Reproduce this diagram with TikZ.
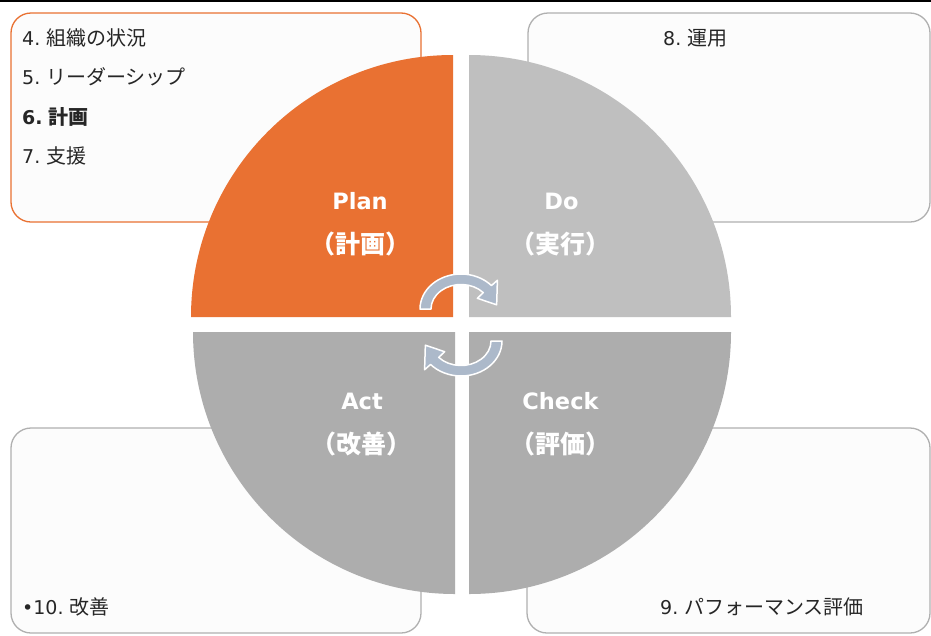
\documentclass[tikz,border=0pt]{standalone}
\usepackage{fontspec}
\newfontfamily\jp{Noto Sans CJK JP}
\newfontfamily\lat{DejaVu Sans}
\definecolor{orangec}{HTML}{E97132}
\definecolor{dogray}{HTML}{BFBFBF}
\definecolor{actgray}{HTML}{ADADAD}
\definecolor{boxgray}{HTML}{B0B0B0}
\definecolor{boxfill}{HTML}{FCFCFC}
\definecolor{arrowc}{HTML}{ACB9CA}
\definecolor{txt}{HTML}{262626}
\newcommand\mytxt[2]{{\lat\fontsize{19}{23}\selectfont #1}\hspace{6pt}{\jp\fontsize{20}{24}\selectfont #2}}
\newcommand\mytxtb[2]{{\lat\bfseries\fontsize{19}{23}\selectfont #1}\hspace{6pt}{\jp\bfseries\fontsize{20}{24}\selectfont #2}}
\newcommand\lla[1]{{\lat\bfseries\fontsize{22.5}{27}\selectfont #1}}
\newcommand\llj[1]{{\jp\bfseries\fontsize{25}{30}\selectfont #1}}
\tikzset{
  boxo/.style={draw=orangec, line width=1.3pt, fill=boxfill, rounded corners=20pt},
  boxg/.style={draw=boxgray, line width=1.3pt, fill=boxfill, rounded corners=20pt},
  body/.style={anchor=base west, inner sep=0pt, text=txt},
  lab/.style={anchor=base, inner sep=0pt, text=white},
  arr/.style={fill=arrowc, draw=white, line width=1.5pt, line join=round},
  cyc/.pic={
    \filldraw[arr] (180:41 and 35) arc[start angle=180,end angle=318,x radius=41,y radius=35]
      -- (318:49 and 43) -- (352:36 and 30) -- (318:22 and 16) -- (318:30 and 24.5)
      arc[start angle=318,end angle=180,x radius=30,y radius=24.5] -- cycle;
  }
}
\begin{document}
\begin{tikzpicture}[x=1pt,y=-1pt]
\useasboundingbox (0,0) rectangle (931,635);
\fill[white] (0,0) rectangle (931,635);
\fill[black] (0,0) rectangle (931,2);
% side boxes
\draw[boxo] (11,13) rectangle (421,222);
\draw[boxg] (528,13) rectangle (930,222);
\draw[boxg] (11,428) rectangle (421,633);
\draw[boxg] (527,428) rectangle (930,633);
% quadrants
\fill[orangec] (453,317) -- ++(-262,0) arc[start angle=180,end angle=270,radius=262] -- cycle;
\fill[dogray] (469,317) -- ++(0,-262) arc[start angle=270,end angle=360,radius=262] -- cycle;
\fill[actgray] (469,332) -- ++(262,0) arc[start angle=0,end angle=90,radius=262] -- cycle;
\fill[actgray] (455,332) -- ++(0,262) arc[start angle=90,end angle=180,radius=262] -- cycle;
% cycle arrows
\pic (arrtop) at (461,309) {cyc};
\pic[rotate=180] (arrbot) at (461,341) {cyc};
% quadrant labels
\node[lab] (plan) at (360,209) {\lla{Plan}};
\node[lab] (planj) at (360,253) {\llj{（計画）}};
\node[lab] (do) at (561.5,209) {\lla{Do}};
\node[lab] (doj) at (560,253) {\llj{（実行）}};
\node[lab] (act) at (362,409) {\lla{Act}};
\node[lab] (actj) at (361.5,453) {\llj{（改善）}};
\node[lab] (check) at (560.5,409) {\lla{Check}};
\node[lab] (checkj) at (560,453) {\llj{（評価）}};
% box texts
\node[body] (t4) at (22,45) {\mytxt{4.}{組織の状況}};
\node[body] (t5) at (22,84.5) {\mytxt{5.}{リーダーシップ}};
\node[body] (t6) at (22,124) {\mytxtb{6.}{計画}};
\node[body] (t7) at (22,163.5) {\mytxt{7.}{支援}};
\node[body] (t8) at (663,45) {\mytxt{8.}{運用}};
\node[body] (t9) at (660,614) {\mytxt{9.}{パフォーマンス評価}};
\node[body] (t10) at (22,614) {\mytxt{•10.}{改善}};
\end{tikzpicture}
\end{document}
